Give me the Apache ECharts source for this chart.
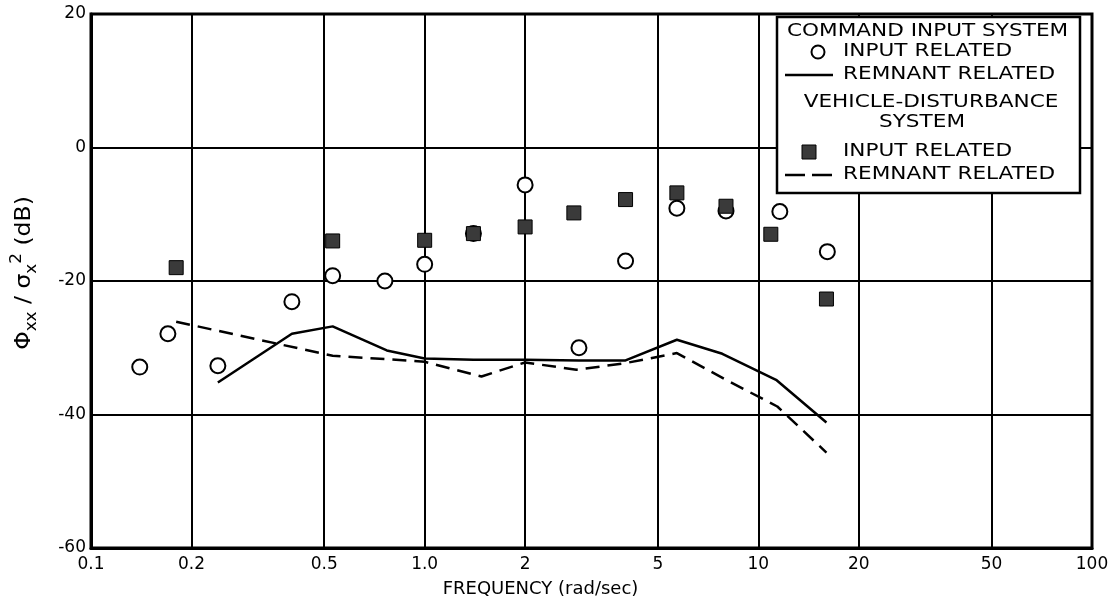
<!DOCTYPE html>
<html>
<head>
<meta charset="utf-8">
<script src="https://cdn.jsdelivr.net/npm/echarts@6/dist/echarts.min.js"></script>
<style>
    html, body { margin: 0; padding: 0; background: #fff; }
    #main { width: 1118px; height: 606px; }
</style>
</head>
<body>
<div id="main"></div>
<script>
var FONT = 'DejaVu Sans';

// axis ticks
var xTicks = [0.1, 0.2, 0.5, 1, 2, 5, 10, 20, 50, 100];
var xTickLabels = ['0.1', '0.2', '0.5', '1.0', '2', '5', '10', '20', '50', '100'];

// command input system
var cmdInputFreq = [0.14, 0.17, 0.24, 0.40, 0.53, 0.76, 1.0, 1.4, 2.0, 2.9, 4.0, 5.7, 8.0, 11.6, 16.1];
var cmdInputDb = [-32.9, -27.9, -32.7, -23.1, -19.2, -20.0, -17.5, -12.9, -5.6, -30.0, -17.0, -9.1, -9.5, -9.6, -15.6];
var cmdRemnantFreq = [0.24, 0.40, 0.53, 0.77, 1.0, 1.4, 2.0, 2.9, 4.0, 5.7, 7.8, 11.3, 16.0];
var cmdRemnantDb = [-35.2, -27.9, -26.8, -30.4, -31.6, -31.8, -31.8, -31.9, -31.9, -28.8, -30.9, -34.8, -41.2];

// vehicle-disturbance system
var vehInputFreq = [0.18, 0.53, 1.0, 1.4, 2.0, 2.8, 4.0, 5.7, 8.0, 10.9, 16.0];
var vehInputDb = [-18.0, -14.0, -13.9, -12.9, -11.9, -9.8, -7.8, -6.8, -8.8, -13.0, -22.7];
var vehRemnantFreq = [0.18, 0.53, 0.76, 1.0, 1.48, 2.0, 2.85, 4.0, 5.7, 8.0, 11.4, 16.0];
var vehRemnantDb = [-26.1, -31.2, -31.7, -32.1, -34.3, -32.2, -33.3, -32.3, -30.8, -34.8, -38.8, -45.7];

function pairs(xs, ys) {
    return xs.map(function (x, i) { return [x, ys[i]]; });
}

function tickLabel(v) {
    for (var i = 0; i < xTicks.length; i++) {
        if (Math.abs(xTicks[i] - v) < xTicks[i] * 1e-4) return xTickLabels[i];
    }
    return '';
}

// legend box pieces (hand lettered, so the text is stretched a bit)
var legendText = function (text, x, y, align) {
    return {
        type: 'text', x: x, y: y, scaleX: 1.27, z: 102,
        style: {
            text: text, fill: '#000', fontSize: 17, fontFamily: FONT,
            align: align || 'left', verticalAlign: 'middle',
            textAlign: align || 'left', textVerticalAlign: 'middle'
        }
    };
};

var myChart = echarts.init(document.getElementById('main'));
var option = {
    backgroundColor: '#fff',
    animation: false,
    grid: {
        left: 91, right: 26, top: 14, bottom: 58,
        show: true, borderColor: '#000', borderWidth: 3,
        containLabel: false, outerBoundsMode: 'none'
    },
    xAxis: {
        type: 'log', logBase: 10, min: 0.1, max: 100,
        axisLine: { show: true, onZero: false, lineStyle: { color: '#000', width: 3 } },
        axisTick: { show: false, customValues: xTicks },
        axisLabel: {
            customValues: xTicks, formatter: tickLabel, margin: 8,
            color: '#000', fontSize: 17, fontFamily: FONT
        },
        splitLine: { show: true, lineStyle: { color: '#000', width: 2 } },
        name: 'FREQUENCY (rad/sec)', nameLocation: 'middle', nameGap: 32,
        nameTextStyle: { color: '#000', fontSize: 18, fontFamily: FONT, padding: [0, 102, 0, 0] }
    },
    yAxis: {
        type: 'value', min: -60, max: 20, interval: 20,
        axisLine: { show: true, onZero: false, lineStyle: { color: '#000', width: 3 } },
        axisTick: { show: false },
        axisLabel: { color: '#000', fontSize: 17, fontFamily: FONT, margin: 5 },
        splitLine: { show: true, lineStyle: { color: '#000', width: 2 } }
    },
    graphic: [
        {
            type: 'text', x: 25, y: 273, rotation: Math.PI / 2, scaleX: 1.12,
            style: {
                text: '{a|Φ}{s|xx}{a| / σ}{s|x}{p|2}{a| (dB)}',
                align: 'center', verticalAlign: 'middle',
                textAlign: 'center', textVerticalAlign: 'middle',
                fill: '#000', fontFamily: FONT,
                rich: {
                    a: { fontSize: 21, fontFamily: FONT, lineHeight: 30, verticalAlign: 'middle' },
                    s: { fontSize: 15, fontFamily: FONT, lineHeight: 30, verticalAlign: 'bottom' },
                    p: { fontSize: 15, fontFamily: FONT, lineHeight: 30, verticalAlign: 'top' }
                }
            }
        },
        {
            type: 'rect', z: 100,
            shape: { x: 777, y: 17, width: 303, height: 176 },
            style: { fill: '#fff', stroke: '#000', lineWidth: 2.5 }
        },
        legendText('COMMAND INPUT SYSTEM', 787, 32),
        {
            type: 'circle', z: 102, shape: { cx: 818, cy: 52, r: 6.5 },
            style: { fill: '#fff', stroke: '#000', lineWidth: 2 }
        },
        legendText('INPUT RELATED', 843, 52),
        {
            type: 'line', z: 102, shape: { x1: 785, y1: 75, x2: 833, y2: 75 },
            style: { stroke: '#000', lineWidth: 2.5 }
        },
        legendText('REMNANT RELATED', 843, 75),
        legendText('VEHICLE-DISTURBANCE', 931, 103, 'center'),
        legendText('SYSTEM', 922, 123, 'center'),
        {
            type: 'rect', z: 102, shape: { x: 802, y: 145, width: 14, height: 14 },
            style: { fill: '#3a3a3a', stroke: '#000', lineWidth: 1 }
        },
        legendText('INPUT RELATED', 843, 152),
        {
            type: 'line', z: 102, shape: { x1: 785, y1: 175, x2: 833, y2: 175 },
            style: { stroke: '#000', lineWidth: 2.5, lineDash: [20, 7] }
        },
        legendText('REMNANT RELATED', 843, 175)
    ],
    series: [
        {
            name: 'Command remnant', type: 'line', data: pairs(cmdRemnantFreq, cmdRemnantDb),
            symbol: 'none', lineStyle: { color: '#000', width: 2.5 }, z: 3
        },
        {
            name: 'Vehicle remnant', type: 'line', data: pairs(vehRemnantFreq, vehRemnantDb),
            symbol: 'none', lineStyle: { color: '#000', width: 2.5, type: [14, 8] }, z: 3
        },
        {
            name: 'Command input', type: 'scatter', data: pairs(cmdInputFreq, cmdInputDb),
            symbol: 'circle', symbolSize: 15,
            itemStyle: { color: '#fff', borderColor: '#000', borderWidth: 2, opacity: 1 }, z: 4
        },
        {
            name: 'Vehicle input', type: 'scatter', data: pairs(vehInputFreq, vehInputDb),
            symbol: 'rect', symbolSize: 14,
            itemStyle: { color: '#3a3a3a', borderColor: '#000', borderWidth: 1, opacity: 1 }, z: 5
        }
    ]
};
myChart.setOption(option);
</script>
</body>
</html>
